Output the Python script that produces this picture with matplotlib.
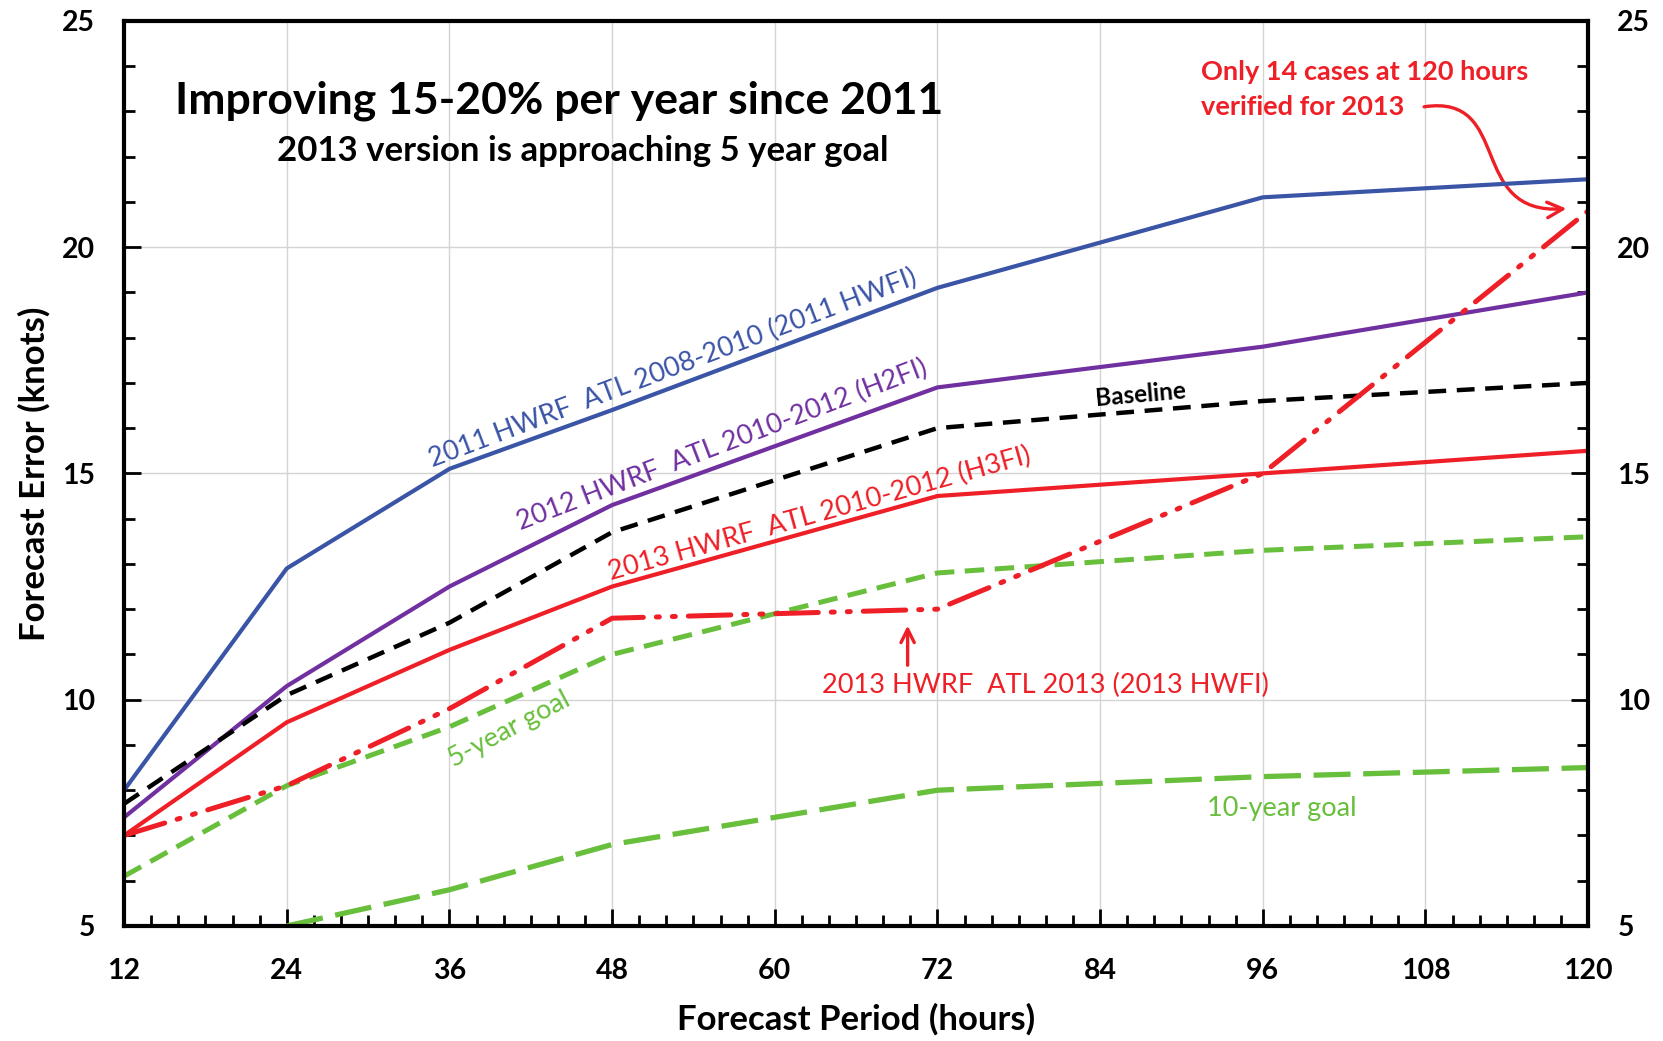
import numpy as np
import matplotlib
matplotlib.use("Agg")
import matplotlib.pyplot as plt
from matplotlib.patches import FancyArrowPatch
from matplotlib.path import Path
from matplotlib.ticker import MultipleLocator

plt.rcParams['font.family'] = ['Lato', 'DejaVu Sans']

hours = [12, 24, 36, 48, 72, 96, 120]
hwfi_2011 = [8.0, 12.9, 15.1, 16.4, 19.1, 21.1, 21.5]
h2fi_2012 = [7.4, 10.3, 12.5, 14.3, 16.9, 17.8, 19.0]
baseline = [7.7, 10.1, 11.7, 13.7, 16.0, 16.6, 17.0]
h3fi_2013 = [7.0, 9.5, 11.1, 12.5, 14.5, 15.0, 15.5]
hwfi_2013 = [7.0, 8.1, 9.8, 11.8, 12.0, 15.0, 20.8]
goal_5yr = [6.1, 8.1, 9.4, 11.0, 12.8, 13.3, 13.6]
hours_10 = [24, 36, 48, 72, 96, 120]
goal_10yr = [5.0, 5.8, 6.8, 8.0, 8.3, 8.5]

blue = '#3a54a6'
purple = '#7030a0'
red = '#ee1f26'
green = '#68bf3c'

fig = plt.figure(figsize=(16.63, 10.41), dpi=100)
ax = fig.add_axes([0.0746, 0.1105, 0.8804, 0.8695])

ax.plot(hours_10, goal_10yr, color=green, lw=3.8, dashes=(7, 2.4))
ax.plot(hours, goal_5yr, color=green, lw=3.6, dashes=(3.9, 2.1))
ax.plot(hours, hwfi_2011, color=blue, lw=3.0)
ax.plot(hours, h2fi_2012, color=purple, lw=3.0)
ax.plot(hours, baseline, color='black', lw=3.2, dashes=(4.0, 2.4))
ax.plot(hours, h3fi_2013, color=red, lw=3.0)
ax.plot(hours, hwfi_2013, color=red, lw=3.6, dashes=(8.5, 2.6, 0.6, 2.6, 0.6, 2.6),
        dash_capstyle='round')

ax.set_xlim(12, 120)
ax.set_ylim(5, 25)
ax.xaxis.set_major_locator(MultipleLocator(12))
ax.xaxis.set_minor_locator(MultipleLocator(2))
ax.yaxis.set_major_locator(MultipleLocator(5))
ax.yaxis.set_minor_locator(MultipleLocator(1))
ax.grid(True, which='major', color='#d4d4d4', lw=1.0)
ax.set_axisbelow(True)
for s in ax.spines.values():
    s.set_linewidth(3.0)
ax.tick_params(which='both', direction='in', left=True, right=True, top=False,
               labelright=True, width=2.0, labelsize=20.5)
ax.tick_params(which='major', length=12)
ax.tick_params(which='minor', length=8)
ax.tick_params(axis='x', which='major', pad=23)
ax.tick_params(axis='y', which='major', pad=21)
for lab in ax.get_xticklabels() + ax.get_yticklabels():
    lab.set_fontweight('bold')
for t in ax.yaxis.get_major_ticks():
    t.label2.set_fontweight('bold')

ax.set_xlabel('Forecast Period (hours)', fontsize=25, fontweight='bold', labelpad=14)
ax.set_ylabel('Forecast Error (knots)', fontsize=25, fontweight='bold', labelpad=8)

ax.text(44.1, 23.24, 'Improving 15-20% per year since 2011', fontsize=32,
        fontweight='bold', ha='center', va='center')
ax.text(45.8, 22.12, '2013 version is approaching 5 year goal', fontsize=25,
        fontweight='bold', ha='center', va='center')

ax.text(52.5, 17.33, '2011 HWRF  ATL 2008-2010 (2011 HWFI)', color=blue,
        fontsize=19.5, rotation=20.7, ha='center', va='center', rotation_mode='anchor')
ax.text(56.1, 15.62, '2012 HWRF  ATL 2010-2012 (H2FI)', color=purple,
        fontsize=19.5, rotation=20.9, ha='center', va='center', rotation_mode='anchor')
ax.text(63.3, 14.1, '2013 HWRF  ATL 2010-2012 (H3FI)', color=red,
        fontsize=19.5, rotation=15.6, ha='center', va='center', rotation_mode='anchor')
ax.text(87.0, 16.75, 'Baseline', color='black', fontsize=17.5, fontweight='bold',
        rotation=5, ha='center', va='center', rotation_mode='anchor')
ax.text(40.4, 9.35, '5-year goal', color=green, fontsize=19.5,
        rotation=28, ha='center', va='center', rotation_mode='anchor')
ax.text(97.4, 7.6, '10-year goal', color=green, fontsize=19.5,
        ha='center', va='center')
ax.text(80.0, 10.32, '2013 HWRF  ATL 2013 (2013 HWFI)', color=red, fontsize=19.5,
        ha='center', va='center')
ax.annotate('', xy=(69.8, 11.7), xytext=(69.8, 10.7),
            arrowprops=dict(arrowstyle='->', color=red, lw=2.4, mutation_scale=24))

ax.text(91.45, 23.48, 'Only 14 cases at 120 hours\nverified for 2013', color=red,
        fontsize=19.5, fontweight='bold', ha='left', va='center', linespacing=1.55)
curve = Path([(107.9, 23.1), (114.5, 23.4), (111.0, 20.7), (118.4, 20.85)],
             [Path.MOVETO, Path.CURVE4, Path.CURVE4, Path.CURVE4])
arr = FancyArrowPatch(path=curve, arrowstyle='->', color=red, lw=2.4,
                      mutation_scale=28, transform=ax.transData)
ax.add_patch(arr)

fig.savefig('out.png', dpi=100)
